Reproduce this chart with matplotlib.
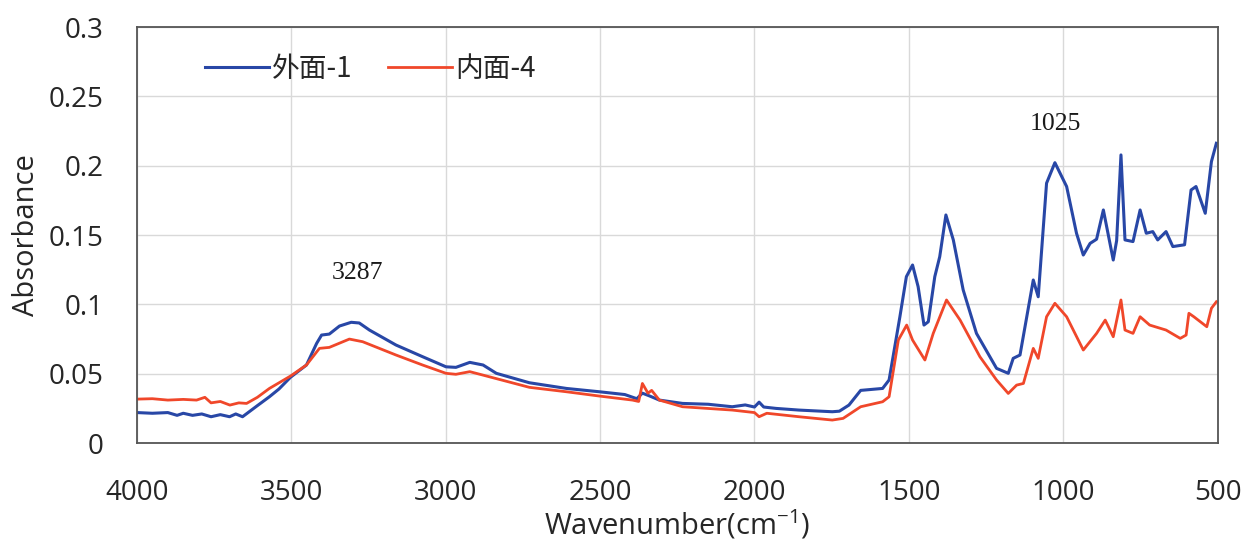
import matplotlib
matplotlib.use("Agg")
import matplotlib.pyplot as plt

# ---- data ----
wn_outer = [4000, 3950, 3900, 3870, 3850, 3820, 3790, 3760, 3730, 3700, 3680, 3658, 3640,
            3610, 3571, 3540, 3503, 3451, 3418, 3402, 3377, 3344, 3306, 3280, 3247, 3161,
            3075, 2999, 2967, 2922, 2879, 2836, 2729, 2609, 2502, 2420, 2381, 2363, 2340,
            2308, 2233, 2150, 2072, 2030, 2000, 1985, 1970, 1930, 1856, 1748, 1725, 1694,
            1656, 1585, 1564, 1529, 1508, 1488, 1470, 1451, 1437, 1416, 1400, 1380, 1356,
            1324, 1281, 1216, 1178, 1162, 1140, 1097, 1081, 1054, 1027, 989, 957, 935, 913,
            892, 870, 838, 827, 813, 800, 774, 751, 731, 710, 694, 667, 645, 607, 586, 570,
            540, 520, 504]
abs_outer = [0.022, 0.0215, 0.022, 0.020, 0.0215, 0.020, 0.021, 0.019, 0.0205, 0.019, 0.021,
             0.019, 0.022, 0.027, 0.0334, 0.039, 0.0474, 0.0563, 0.0719, 0.0779, 0.0786,
             0.0844, 0.0871, 0.0866, 0.0815, 0.0707, 0.0623, 0.055, 0.0546, 0.0582, 0.0563,
             0.0503, 0.0435, 0.0394, 0.037, 0.035, 0.032, 0.036, 0.034, 0.031, 0.0286, 0.028,
             0.0262, 0.0275, 0.026, 0.0295, 0.026, 0.025, 0.0238, 0.0226, 0.023, 0.0274,
             0.038, 0.0394, 0.0455, 0.0911, 0.12, 0.1284, 0.1128, 0.0851, 0.0875, 0.12,
             0.1344, 0.1645, 0.1465, 0.1104, 0.0791, 0.0539, 0.0503, 0.0611, 0.0635, 0.1176,
             0.1055, 0.1874, 0.2022, 0.185, 0.1513, 0.1356, 0.144, 0.147, 0.1681, 0.132,
             0.146, 0.2078, 0.1465, 0.1453, 0.1681, 0.1513, 0.1525, 0.1465, 0.1525, 0.1417,
             0.143, 0.1825, 0.185, 0.1657, 0.203, 0.2162]

wn_inner = [4000, 3950, 3900, 3850, 3807, 3780, 3760, 3730, 3699, 3670, 3645, 3610, 3571,
            3503, 3451, 3409, 3377, 3312, 3269, 3161, 3075, 2999, 2967, 2922, 2879, 2729,
            2609, 2502, 2395, 2375, 2363, 2345, 2333, 2308, 2233, 2072, 2000, 1985, 1960,
            1856, 1748, 1713, 1656, 1585, 1564, 1534, 1507, 1488, 1448, 1421, 1378, 1334,
            1270, 1216, 1178, 1151, 1129, 1097, 1081, 1054, 1027, 989, 935, 892, 864, 838,
            813, 800, 774, 751, 720, 667, 621, 602, 593, 577, 535, 520, 504]
abs_inner = [0.0317, 0.032, 0.031, 0.0315, 0.031, 0.033, 0.029, 0.030, 0.0274, 0.029, 0.0286,
             0.033, 0.0394, 0.0483, 0.0563, 0.0683, 0.069, 0.075, 0.0731, 0.0635, 0.0563,
             0.0503, 0.0496, 0.0515, 0.049, 0.0402, 0.037, 0.0339, 0.031, 0.030, 0.043,
             0.036, 0.038, 0.031, 0.0262, 0.0238, 0.022, 0.019, 0.0215, 0.019, 0.0166,
             0.0178, 0.0262, 0.0298, 0.0334, 0.0743, 0.0851, 0.0743, 0.0599, 0.0791, 0.1032,
             0.0887, 0.0623, 0.0455, 0.0358, 0.0418, 0.043, 0.0683, 0.0611, 0.0911, 0.1008,
             0.0911, 0.0671, 0.0791, 0.0887, 0.0767, 0.1032, 0.0815, 0.0791, 0.0911, 0.0851,
             0.0815, 0.0755, 0.0779, 0.0936, 0.0911, 0.0839, 0.0972, 0.1019]

series_labels = ["外面-1", "内面-4"]
x_ticks = [4000, 3500, 3000, 2500, 2000, 1500, 1000, 500]
y_ticks = [0, 0.05, 0.1, 0.15, 0.2, 0.25, 0.3]
y_tick_labels = ["0", "0.05", "0.1", "0.15", "0.2", "0.25", "0.3"]
peak_labels = [(3287, 0.123, "3287"), (1025, 0.230, "1025")]

# ---- figure ----
plt.rcParams['font.family'] = ['Open Sans', 'Noto Sans CJK SC', 'DejaVu Sans']
plt.rcParams['mathtext.fontset'] = 'custom'
plt.rcParams['mathtext.rm'] = 'Open Sans'
fig = plt.figure(figsize=(12.45, 5.41), dpi=100)
ax = fig.add_axes([0.110, 0.181, 0.868, 0.769])

ax.plot(wn_outer, abs_outer, color="#2847a6", lw=2.2, label=series_labels[0],
        solid_joinstyle="round")
ax.plot(wn_inner, abs_inner, color="#f0472a", lw=2.0, label=series_labels[1],
        solid_joinstyle="round")

ax.set_xlim(4000, 500)
ax.set_ylim(0, 0.3)
ax.set_xticks(x_ticks)
ax.set_xticklabels([str(t) for t in x_ticks])
ax.set_yticks(y_ticks)
ax.set_yticklabels(y_tick_labels)
ax.tick_params(axis="both", length=0, labelsize=20, colors="#262626")
ax.tick_params(axis="y", pad=24)
ax.tick_params(axis="x", pad=26)
ax.grid(True, color="#d9d9d9", lw=1.0)
ax.set_axisbelow(True)
for s in ax.spines.values():
    s.set_color("#555555")
    s.set_linewidth(1.3)

ax.set_xlabel("Wavenumber(cm$^{\\mathregular{-1}}$)", fontsize=21, color="#262626", labelpad=0)
ax.set_ylabel("Absorbance", fontsize=21, color="#262626", labelpad=6)
ax.yaxis.set_label_coords(-0.089, 0.5)

for wn, a, txt in peak_labels:
    ax.text(wn, a, txt, ha="center", va="center", fontsize=18.5,
            family="Liberation Serif", color="#1a1a1a")

leg = ax.legend(loc="upper left", bbox_to_anchor=(0.04, 0.995), ncol=2, frameon=False,
                handlelength=2.3, handletextpad=0.1, columnspacing=1.3,
                prop={'family': ['Noto Sans CJK SC', 'DejaVu Sans'], 'size': 20})
for t in leg.get_texts():
    t.set_color("#262626")

fig.savefig("out.png", dpi=100, facecolor="white")
